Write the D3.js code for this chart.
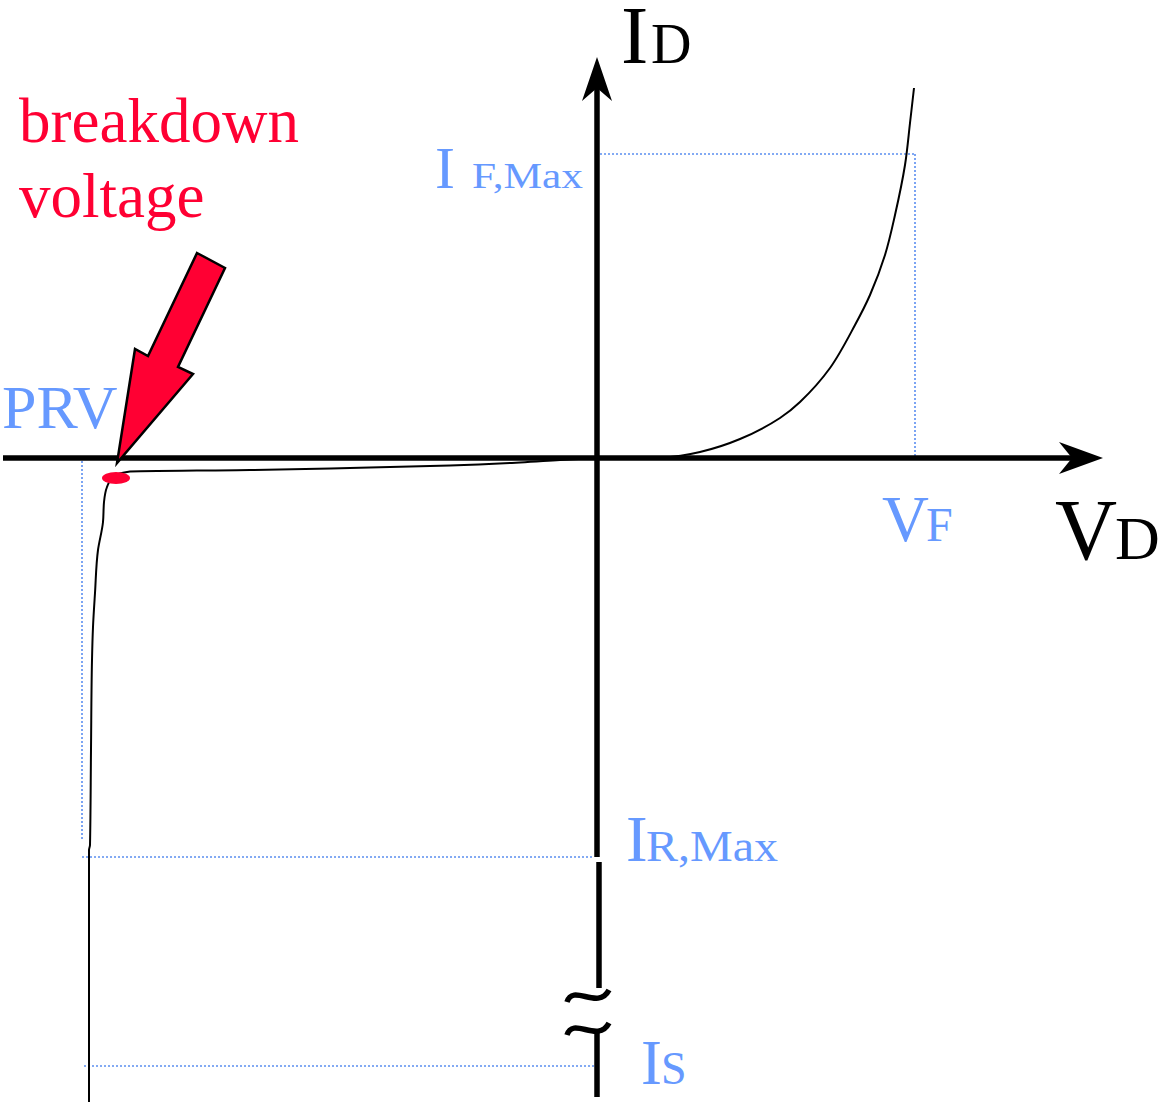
<!DOCTYPE html>
<html>
<head>
<meta charset="utf-8">
<script src="https://cdn.jsdelivr.net/npm/d3@7"></script>
<style>
  body { margin: 0; background: #fff; }
  text { font-family: "Liberation Serif", "Times New Roman", serif; }
</style>
</head>
<body>
<div id="chart"></div>
<script>
// Diode I-V characteristic (schematic units)
const fwdV = [0, 6.3, 10.3, 14.3, 18.3, 20.3, 23.3, 25.8, 27.3, 28.8, 29.8, 30.8, 31.3, 31.7];
const fwdI = [0, 0, 0.6, 1.9, 4.0, 5.6, 9.0, 13.3, 16.3, 20.3, 24.3, 29.3, 33.5, 37.0];

const revV = [0, -3.7, -7.7, -14.7, -24.7, -34.7, -46.7, -48.3, -49.0, -49.3, -49.4, -49.9,
              -50.2, -50.4, -50.5, -50.6, -50.7, -50.8, -50.8];
const revI = [0, -0.2, -0.45, -0.75, -1.0, -1.2, -1.35, -1.8, -2.9, -4.4, -6.4, -9.2,
              -13.5, -16.9, -20.2, -29.2, -38.7, -39.2, -64.4];

// reference levels
const VF = 31.8, PRV = -51.5;
const IF_MAX = 30.4, IR_MAX = -39.9, IS = -60.8;
const breakdown = { v: -48.1, i: -2.0 };
const axisBreak = [-53.0, -57.4];

const width = 1163, height = 1102;
const blue = "#6699ff", red = "#ff0033";

const svg = d3.select("#chart").append("svg")
  .attr("width", width)
  .attr("height", height);

const x = d3.scaleLinear().domain([-59.7, 56.6]).range([0, width]);
const y = d3.scaleLinear().domain([45.8, -64.4]).range([0, height]);

// dotted guide lines
const guides = [
  [[0.3, IF_MAX], [VF, IF_MAX]],
  [[VF, IF_MAX], [VF, 0]],
  [[PRV, -0.3], [PRV, -38.2]],
  [[PRV, IR_MAX], [-0.3, IR_MAX]],
  [[-51.3, IS], [-0.3, IS]]
];
svg.selectAll(".guide")
  .data(guides).enter().append("line")
  .attr("class", "guide")
  .attr("x1", d => x(d[0][0])).attr("y1", d => y(d[0][1]))
  .attr("x2", d => x(d[1][0])).attr("y2", d => y(d[1][1]))
  .attr("stroke", "#5b8ef0")
  .attr("stroke-width", 1.6)
  .attr("stroke-dasharray", "2,2");

// axes
const ax = svg.append("g").attr("stroke", "#000").attr("stroke-width", 5.5).attr("fill", "none");
ax.append("line")
  .attr("x1", x(-59.4)).attr("x2", x(47.5))
  .attr("y1", y(0)).attr("y2", y(0));
ax.append("line")
  .attr("x1", x(0)).attr("x2", x(0))
  .attr("y1", y(37)).attr("y2", y(IR_MAX));
ax.append("line")
  .attr("x1", x(0.2)).attr("x2", x(0.2))
  .attr("y1", y(-40.4)).attr("y2", y(axisBreak[0]));
ax.append("line")
  .attr("x1", x(0.0)).attr("x2", x(0.0))
  .attr("y1", y(axisBreak[1])).attr("y2", y(-63.9));

// break tildes
axisBreak.forEach((b, k) => {
  const cx = x(0), cy = y(b) + (k === 0 ? 10 : -1);
  const p = d3.path();
  p.moveTo(cx - 30, cy + 4);
  p.bezierCurveTo(cx - 24, cy - 15, cx + 1, cy + 13, cx + 12, cy - 8);
  ax.append("path").attr("d", p.toString()).attr("stroke-width", 5.5);
});

// arrow heads
const tipX = x(50.6), tipY = y(40.1);
svg.append("path")
  .attr("d", `M${tipX},${y(0)} L${tipX - 44},${y(0) - 16} L${tipX - 31},${y(0)} L${tipX - 44},${y(0) + 16} Z`)
  .attr("fill", "#000");
svg.append("path")
  .attr("d", `M${x(0)},${tipY} L${x(0) - 15},${tipY + 44} L${x(0)},${tipY + 31} L${x(0) + 15},${tipY + 44} Z`)
  .attr("fill", "#000");

// characteristic curve
const line = d3.line().x(d => x(d[0])).y(d => y(d[1]));
svg.append("path")
  .datum(d3.zip(fwdV, fwdI))
  .attr("fill", "none").attr("stroke", "#000").attr("stroke-width", 2)
  .attr("d", line.curve(d3.curveCatmullRom.alpha(0.5)));
svg.append("path")
  .datum(d3.zip(revV, revI))
  .attr("fill", "none").attr("stroke", "#000").attr("stroke-width", 2)
  .attr("d", line.curve(d3.curveMonotoneY));

// breakdown marker and block arrow
svg.append("ellipse")
  .attr("cx", x(breakdown.v)).attr("cy", y(breakdown.i))
  .attr("rx", 14).attr("ry", 6)
  .attr("fill", red);

const ax0 = x(-48.0), ay0 = y(-0.5);
const arrowPts = [[80, -210], [108, -195], [61, -96], [76, -89], [0, 0], [18, -114], [31, -107]];
svg.append("polygon")
  .attr("points", arrowPts.map(p => [ax0 + p[0], ay0 + p[1]].join(",")).join(" "))
  .attr("fill", red)
  .attr("stroke", "#000")
  .attr("stroke-width", 2.5)
  .attr("stroke-linejoin", "miter");

// labels: main letter plus smaller, baseline-aligned subscript
function label(main, sub, px, py, size, subSize, subX, color, subLen) {
  const t = svg.append("text").attr("x", px).attr("y", py).attr("fill", color);
  t.append("tspan").attr("font-size", size).text(main);
  const s = t.append("tspan").attr("x", subX).attr("font-size", subSize).text(sub);
  if (subLen) s.attr("textLength", subLen).attr("lengthAdjust", "spacingAndGlyphs");
}

label("I", "D", 621, 63, 82, 56, 651, "#000");
label("V", "D", 1055, 559, 86, 62, 1115, "#000");
label("V", "F", 882, 541, 65, 48, 926, blue);
label("I", "F,Max", 435, 188, 60, 36, 472, blue, 111);
label("I", "R,Max", 626, 861, 65, 44, 646, blue, 132);
label("I", "S", 641, 1084, 63, 46, 661, blue);

svg.append("text").attr("x", 2).attr("y", 428)
  .attr("font-size", 62).attr("fill", blue).text("PRV");

svg.append("text").attr("x", 19).attr("y", 142)
  .attr("font-size", 63).attr("fill", red).text("breakdown");
svg.append("text").attr("x", 19).attr("y", 217)
  .attr("font-size", 63).attr("fill", red).text("voltage");
</script>
</body>
</html>
